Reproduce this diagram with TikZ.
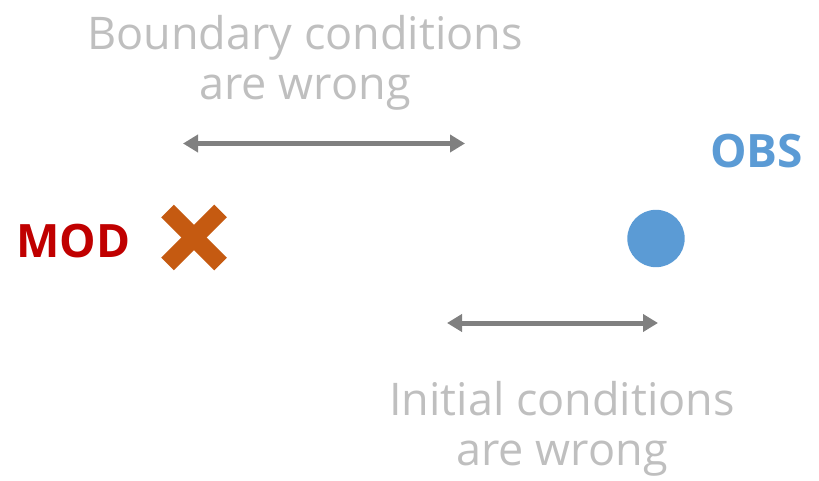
\documentclass[tikz,border=0pt]{standalone}
\usepackage{fontspec}
\setmainfont{Open Sans}
\usetikzlibrary{arrows.meta}
\definecolor{labelgrey}{HTML}{BFBFBF}
\definecolor{arrowgrey}{HTML}{808080}
\definecolor{modred}{HTML}{C00000}
\definecolor{crossorange}{HTML}{C55A11}
\definecolor{obsblue}{HTML}{5B9BD5}
\tikzset{
  note/.style={text=labelgrey, align=center, inner sep=0pt,
    font=\fontsize{45}{50}\selectfont},
  tag/.style={inner sep=0pt, font=\fontsize{46}{50}\selectfont\bfseries},
  span/.style={draw=arrowgrey, line width=5pt,
    {Triangle[length=15pt,width=17pt]}-{Triangle[length=15pt,width=17pt]}},
  crossarm/.style={draw=crossorange, line width=18pt, line cap=butt},
}
\begin{document}
\begin{tikzpicture}[x=1pt,y=-1pt]
  \useasboundingbox (0,0) rectangle (819,481);
  % labels (anchored on the baseline of their last line)
  \node[note, anchor=base] (bc) at (305,100) {Boundary conditions\\are wrong};
  \node[note, anchor=base] (ic) at (562,465) {Initial conditions\\are wrong};
  \node[tag, text=modred, anchor=base west] (mod) at (16,257) {MOD};
  \node[tag, text=obsblue, anchor=base west] (obs) at (710,168) {OBS};
  % model marker: a cross
  \coordinate (x) at (194,237.5);
  \draw[crossarm] ([shift={(-26.5,-26.5)}]x) -- ([shift={(26.5,26.5)}]x);
  \draw[crossarm] ([shift={(-26.5,26.5)}]x) -- ([shift={(26.5,-26.5)}]x);
  % observation marker
  \fill[obsblue] (656,238.5) circle (28.7);
  % distance arrows
  \coordinate (bl) at (183,143.5);
  \coordinate (br) at (465,143.5);
  \coordinate (il) at (447,323);
  \coordinate (ir) at (658,323);
  \draw[span] (bl) -- (br);
  \draw[span] (il) -- (ir);
\end{tikzpicture}
\end{document}
